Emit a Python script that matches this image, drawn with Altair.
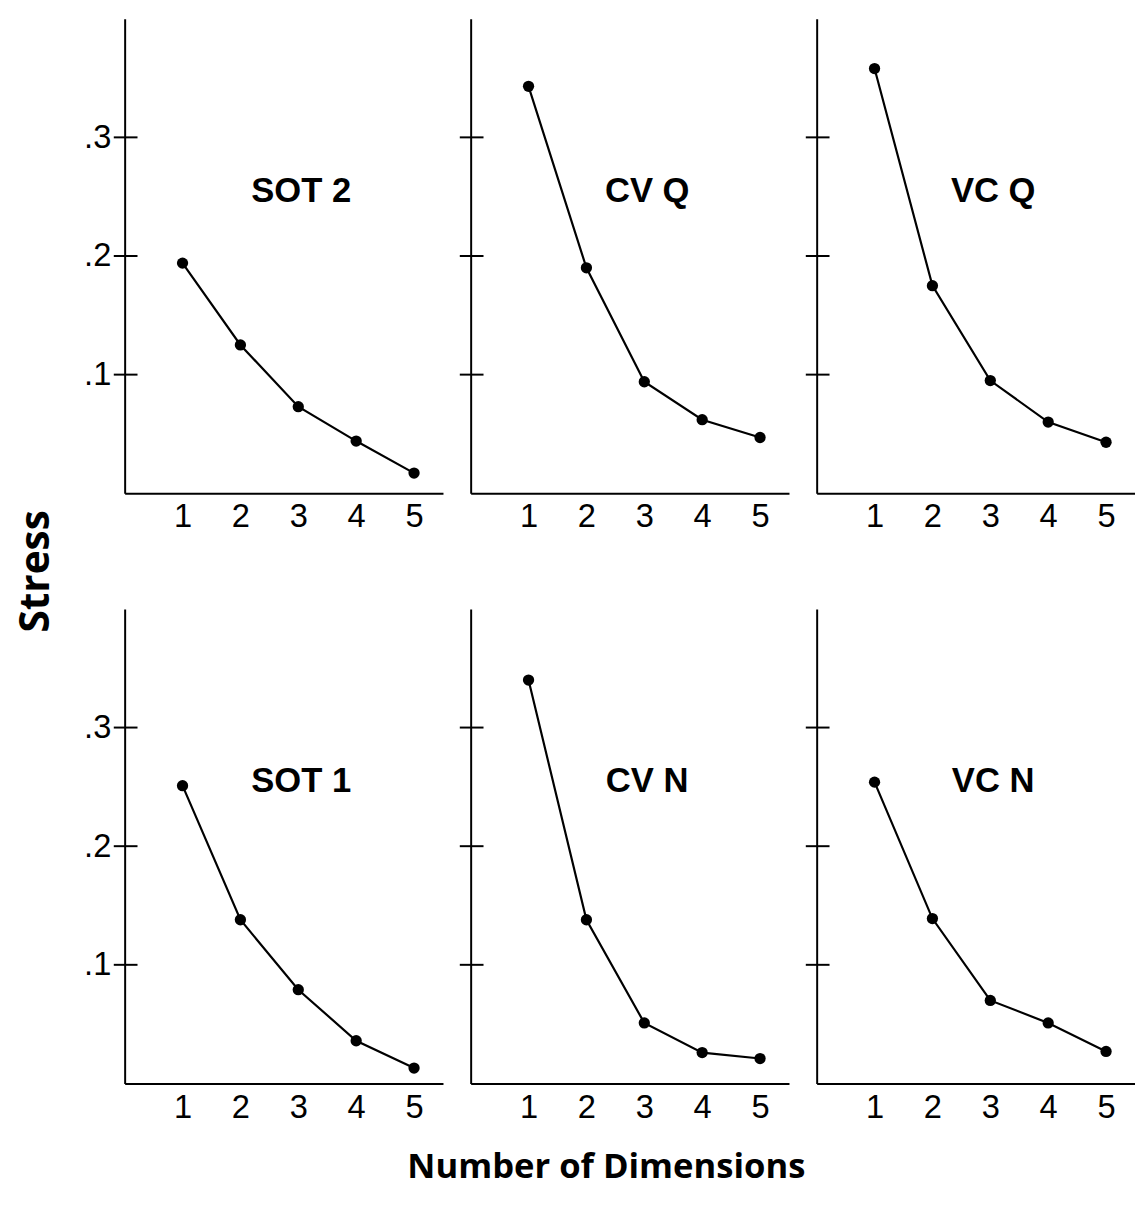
import altair as alt
import pandas as pd

# ---- data ----
dims = [1, 2, 3, 4, 5]
panel_names = ["SOT 2", "CV Q", "VC Q", "SOT 1", "CV N", "VC N"]
sot2 = [0.194, 0.125, 0.073, 0.044, 0.017]
cvq = [0.343, 0.190, 0.094, 0.062, 0.047]
vcq = [0.358, 0.175, 0.095, 0.060, 0.043]
sot1 = [0.251, 0.138, 0.079, 0.036, 0.013]
cvn = [0.340, 0.138, 0.051, 0.026, 0.021]
vcn = [0.254, 0.139, 0.070, 0.051, 0.027]
series = [sot2, cvq, vcq, sot1, cvn, vcn]
y_ticks = [0.1, 0.2, 0.3]
x_ticks = [1, 2, 3, 4, 5]

W, H = 322, 480
LBL_FONT = "Liberation Sans"
TITLE_FONT = "Open Sans"


def panel(name, values, show_labels):
    df = pd.DataFrame({"dim": dims, "stress": values})
    x = alt.X(
        "dim:Q",
        scale=alt.Scale(domain=[0, 5.5], nice=False, zero=False),
        axis=alt.Axis(values=x_ticks, ticks=False, grid=False, domainColor="black",
                      domainWidth=2, labelFontSize=33, labelFont=LBL_FONT,
                      labelColor="black", labelPadding=8, title=None, format="d",
                      labelFlush=False),
    )
    y = alt.Y(
        "stress:Q",
        scale=alt.Scale(domain=[0, 0.4], nice=False),
        axis=alt.Axis(values=y_ticks, ticks=False, grid=False, domainColor="black",
                      domainWidth=2, labels=show_labels,
                      labelExpr="'.' + round(datum.value * 10)",
                      labelFontSize=33, labelFont=LBL_FONT, labelColor="black",
                      labelPadding=14, title=None),
    )
    base = alt.Chart(df)
    line = base.mark_line(color="black", strokeWidth=2.2).encode(x=x, y=y)
    pts = base.mark_circle(color="black", size=130, opacity=1).encode(
        x="dim:Q", y="stress:Q")
    tick_rules = alt.Chart(pd.DataFrame({"t": y_ticks})).mark_rule(
        color="black", strokeWidth=2).encode(
        y="t:Q", x=alt.value(-11), x2=alt.value(13))
    label = alt.Chart(pd.DataFrame({"name": [name]})).mark_text(
        font=LBL_FONT, fontWeight="bold", fontSize=35, color="black").encode(
        text="name:N", x=alt.datum(3.05), y=alt.datum(0.255))
    return alt.layer(line, pts, tick_rules, label).properties(width=W, height=H)


panels = [panel(n, s, i % 3 == 0) for i, (n, s) in enumerate(zip(panel_names, series))]
row1 = alt.hconcat(*panels[:3], spacing=16)
row2 = alt.hconcat(*panels[3:], spacing=16)
grid = alt.vconcat(row1, row2, spacing=76).properties(
    title=alt.TitleParams("Stress", orient="left", anchor="middle", fontSize=41,
                          font=TITLE_FONT, fontWeight="bold", color="black", offset=26))
chart = alt.vconcat(grid).properties(
    title=alt.TitleParams("Number of Dimensions", orient="bottom", anchor="middle",
                          fontSize=35, font=TITLE_FONT, fontWeight="bold",
                          color="black", offset=27, dx=31),
    padding={"left": 8, "top": 4, "right": 0, "bottom": 5},
).configure_view(strokeWidth=0, stroke=None)

chart.save("out.html", embed_options={"renderer": "svg", "actions": False})
